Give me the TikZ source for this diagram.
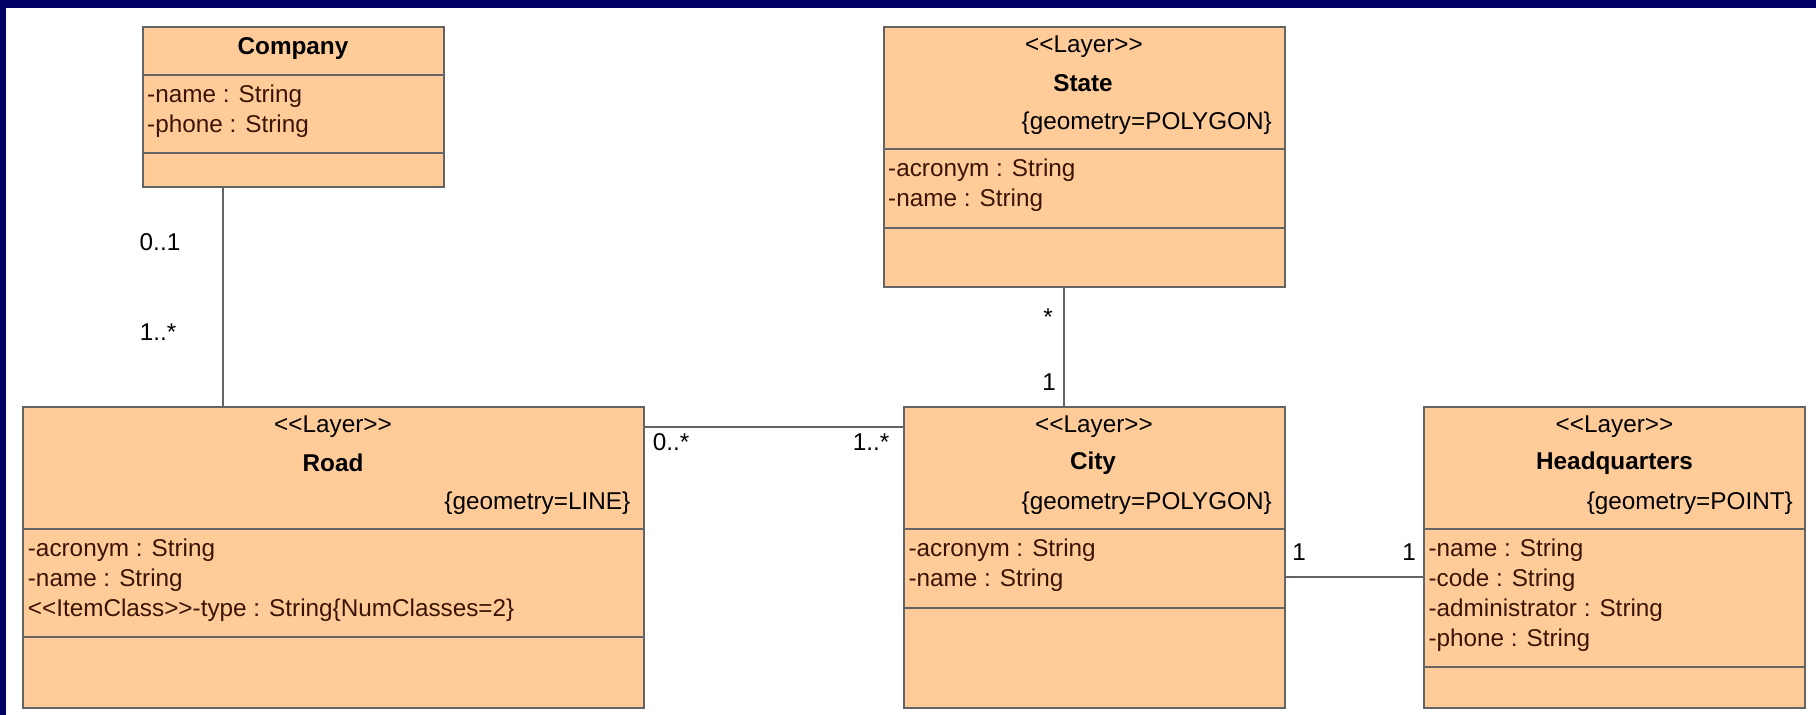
\documentclass[tikz,border=0pt]{standalone}
\usepackage{fontspec}
\newfontfamily\uml{Liberation Sans}
\definecolor{navy}{RGB}{0,0,102}
\definecolor{peach}{RGB}{255,204,153}
\definecolor{edgec}{RGB}{100,100,100}
\definecolor{attrc}{RGB}{60,20,5}
\tikzset{
  classbox/.style={draw=edgec, fill=peach, line width=2pt, inner sep=0pt},
  sepline/.style={draw=edgec, line width=2pt},
  conn/.style={draw=edgec, line width=2pt},
  txt/.style={inner sep=0pt, font=\uml\fontsize{24.3}{29}\selectfont},
  ttl/.style={inner sep=0pt, font=\uml\bfseries\fontsize{24.3}{29}\selectfont},
  attr/.style={txt, anchor=west, text=attrc},
  geo/.style={txt, anchor=east},
  mult/.style={txt}
}
\begin{document}
\begin{tikzpicture}[x=1pt,y=-1pt]
\useasboundingbox (0,0) rectangle (1816,715);
\fill[navy] (0,0) rectangle (1816,715);
\fill[white] (6,8) rectangle (1816,715);

% class boxes
\node[classbox, minimum width=301pt, minimum height=160pt] (company) at (293,107) {};
\node[classbox, minimum width=401.5pt, minimum height=260pt] (state) at (1084.25,157) {};
\node[classbox, minimum width=621pt, minimum height=301pt] (road) at (333,557.5) {};
\node[classbox, minimum width=381.5pt, minimum height=301pt] (city) at (1094.25,557.5) {};
\node[classbox, minimum width=381pt, minimum height=301pt] (hq) at (1614.5,557.5) {};

% compartments
\draw[sepline] (company.west |- 0,75) -- (company.east |- 0,75);
\draw[sepline] (company.west |- 0,153) -- (company.east |- 0,153);
\draw[sepline] (state.west |- 0,149) -- (state.east |- 0,149);
\draw[sepline] (state.west |- 0,228) -- (state.east |- 0,228);
\draw[sepline] (road.west |- 0,529) -- (road.east |- 0,529);
\draw[sepline] (road.west |- 0,637) -- (road.east |- 0,637);
\draw[sepline] (city.west |- 0,529) -- (city.east |- 0,529);
\draw[sepline] (city.west |- 0,608) -- (city.east |- 0,608);
\draw[sepline] (hq.west |- 0,529) -- (hq.east |- 0,529);
\draw[sepline] (hq.west |- 0,667) -- (hq.east |- 0,667);

% Company
\node[ttl] (company-t) at (293,48.3) {Company};
\node[attr] (company-a1) at (147,96.7) {-name : String};
\node[attr] (company-a2) at (147,126) {-phone : String};

% State
\node[txt] (state-s) at (1084,46.7) {<{}<Layer>{}>};
\node[ttl] (state-t) at (1083,83.3) {State};
\node[geo] (state-g) at (1272,123.3) {\{geometry=POLYGON\}};
\node[attr] (state-a1) at (888,170) {-acronym : String};
\node[attr] (state-a2) at (888,200) {-name : String};

% Road
\node[txt] (road-s) at (333,426.7) {<{}<Layer>{}>};
\node[ttl] (road-t) at (333,463.3) {Road};
\node[geo] (road-g) at (630.4,503.3) {\{geometry=LINE\}};
\node[attr] (road-a1) at (27.7,550) {-acronym : String};
\node[attr] (road-a2) at (27.7,580) {-name : String};
\node[attr] (road-a3) at (27.7,610) {<{}<ItemClass>{}>-type : String\{NumClasses=2\}};

% City
\node[txt] (city-s) at (1094,426.7) {<{}<Layer>{}>};
\node[ttl] (city-t) at (1093,463.3) {City};
\node[geo] (city-g) at (1272,503.3) {\{geometry=POLYGON\}};
\node[attr] (city-a1) at (908.3,550) {-acronym : String};
\node[attr] (city-a2) at (908.3,580) {-name : String};

% Headquarters
\node[txt] (hq-s) at (1614.5,426.7) {<{}<Layer>{}>};
\node[ttl] (hq-t) at (1614.5,463.3) {Headquarters};
\node[geo] (hq-g) at (1793,503.3) {\{geometry=POINT\}};
\node[attr] (hq-a1) at (1428.3,550) {-name : String};
\node[attr] (hq-a2) at (1428.3,580) {-code : String};
\node[attr] (hq-a3) at (1428.3,610) {-administrator : String};
\node[attr] (hq-a4) at (1428.3,640) {-phone : String};

% connector guides
\coordinate (cr) at (223,300);
\coordinate (sc) at (1064,300);
\coordinate (rc) at (700,427);
\coordinate (ch) at (1350,577.3);

\draw[conn] (company.south -| cr) -- (road.north -| cr);
\draw[conn] (state.south -| sc) -- (city.north -| sc);
\draw[conn] (road.east |- rc) -- (city.west |- rc);
\draw[conn] (city.east |- ch) -- (hq.west |- ch);

% multiplicities
\node[mult] (m1) at (160,242) {0..1};
\node[mult] (m2) at (158,332) {1..*};
\node[mult] (m3) at (671,442) {0..*};
\node[mult] (m4) at (871,442) {1..*};
\node[mult] (m5) at (1048,317) {*};
\node[mult] (m6) at (1049,382) {1};
\node[mult] (m7) at (1299,552) {1};
\node[mult] (m8) at (1409,552) {1};
\end{tikzpicture}
\end{document}
